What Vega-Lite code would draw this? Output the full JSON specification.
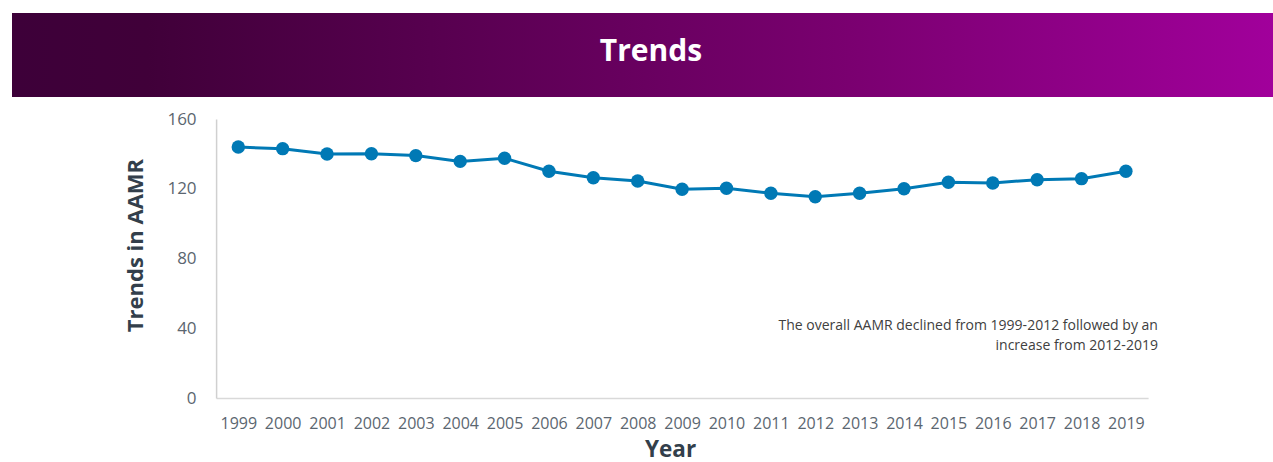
{
  "$schema": "https://vega.github.io/schema/vega-lite/v6.json",
  "background": "white",
  "padding": {"left": 12, "top": 13, "right": -89, "bottom": 0},
  "spacing": 13,
  "center": true,
  "config": {"font": "Open Sans", "view": {"stroke": null}},
  "vconcat": [
    {
      "width": 1350,
      "height": 84,
      "view": {
        "stroke": null,
        "fill": {
          "gradient": "linear",
          "x1": 0, "y1": 0, "x2": 1, "y2": 0,
          "stops": [
            {"offset": 0, "color": "#3d0039"},
            {"offset": 0.1, "color": "#400039"},
            {"offset": 0.31, "color": "#57004f"},
            {"offset": 0.62, "color": "#7a0070"},
            {"offset": 0.934, "color": "#a1009b"},
            {"offset": 1, "color": "#a6009f"}
          ]
        }
      },
      "data": {"values": [{"label": "Trends"}]},
      "mark": {"type": "text", "font": "Open Sans", "fontSize": 30, "fontWeight": "bold", "color": "white", "dx": -36, "dy": -3},
      "encoding": {"text": {"field": "label"}}
    },
    {
      "width": 932,
      "height": 279,
      "data": {
        "values": [
          {"Year": "1999", "AAMR": 143.9},
          {"Year": "2000", "AAMR": 143.0},
          {"Year": "2001", "AAMR": 139.9},
          {"Year": "2002", "AAMR": 140.1},
          {"Year": "2003", "AAMR": 139.0},
          {"Year": "2004", "AAMR": 135.7},
          {"Year": "2005", "AAMR": 137.5},
          {"Year": "2006", "AAMR": 130.0},
          {"Year": "2007", "AAMR": 126.3},
          {"Year": "2008", "AAMR": 124.4},
          {"Year": "2009", "AAMR": 119.7},
          {"Year": "2010", "AAMR": 120.3},
          {"Year": "2011", "AAMR": 117.4},
          {"Year": "2012", "AAMR": 115.4},
          {"Year": "2013", "AAMR": 117.4},
          {"Year": "2014", "AAMR": 120.0},
          {"Year": "2015", "AAMR": 123.7},
          {"Year": "2016", "AAMR": 123.3},
          {"Year": "2017", "AAMR": 125.2},
          {"Year": "2018", "AAMR": 125.8},
          {"Year": "2019", "AAMR": 130.0}
        ]
      },
      "encoding": {
        "x": {
          "field": "Year",
          "type": "ordinal",
          "scale": {"type": "point", "padding": 0.5},
          "axis": {
            "title": "Year",
            "labelAngle": 0,
            "labelFontSize": 16,
            "labelColor": "#5b6670",
            "labelPadding": 17,
            "ticks": false,
            "grid": false,
            "domainColor": "#d9d9d9",
            "domainWidth": 1.5,
            "titleFontSize": 22.5,
            "titleFontWeight": "bold",
            "titleColor": "#333f4b",
            "titlePadding": 7,
            "titleX": 454
          }
        },
        "y": {
          "field": "AAMR",
          "type": "quantitative",
          "scale": {"domain": [0, 160], "nice": false},
          "axis": {
            "title": "Trends in AAMR",
            "values": [0, 40, 80, 120, 160],
            "labelFontSize": 17,
            "labelColor": "#5b6670",
            "labelPadding": 20,
            "ticks": false,
            "grid": false,
            "domainColor": "#d0d0d0",
            "domainWidth": 1.5,
            "titleFontSize": 22,
            "titleFontWeight": "bold",
            "titleColor": "#333f4b",
            "titlePadding": 19,
            "titleY": 126
          }
        }
      },
      "layer": [
        {"mark": {"type": "line", "color": "#0079b5", "strokeWidth": 3}},
        {"mark": {"type": "point", "filled": true, "color": "#0079b5", "opacity": 1, "size": 180}},
        {
          "data": {
            "values": [
              {"Year": "2019", "pos": 41.3, "note": "The overall AAMR declined from 1999-2012 followed by an"},
              {"Year": "2019", "pos": 29.8, "note": "increase from 2012-2019"}
            ]
          },
          "mark": {"type": "text", "align": "right", "baseline": "middle", "fontSize": 14, "font": "Open Sans", "color": "#404040", "dx": 32},
          "encoding": {
            "y": {"field": "pos", "type": "quantitative"},
            "text": {"field": "note", "type": "nominal"}
          }
        }
      ]
    }
  ]
}
